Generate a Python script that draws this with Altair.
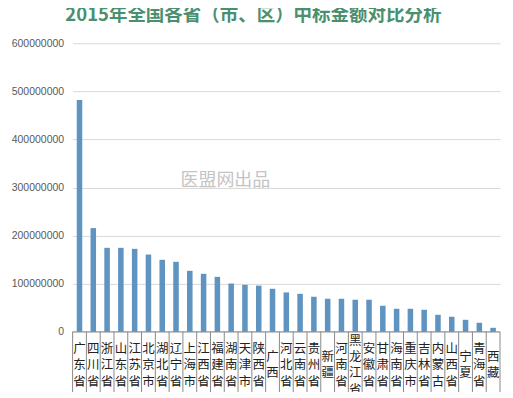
import altair as alt
import pandas as pd

provinces = ["广东省", "四川省", "浙江省", "山东省", "江苏省", "北京市", "湖北省", "辽宁省",
             "上海市", "江西省", "福建省", "湖南省", "天津市", "陕西省", "广西", "河北省",
             "云南省", "贵州省", "新疆", "河南省", "黑龙江省", "安徽省", "甘肃省", "海南省",
             "重庆市", "吉林省", "内蒙古", "山西省", "宁夏", "青海省", "西藏"]
amounts_million = [482, 215.6, 174.6, 174.6, 172.5, 160.7, 149.7, 145.5,
                   126.8, 120.6, 114.3, 100.4, 97.7, 96.0, 89.5, 81.9,
                   79.0, 72.9, 68.7, 68.7, 66.7, 66.7, 54.2, 47.9,
                   47.9, 45.8, 35.4, 31.3, 25.0, 18.8, 8.3]
y_ticks = [0, 100000000, 200000000, 300000000, 400000000, 500000000, 600000000]
title_text = "2015年全国各省（市、区）中标金额对比分析"
watermark = "医盟网出品"

LH = 16.5
df = pd.DataFrame({
    "省份": provinces,
    "金额": [v * 1e6 for v in amounts_million],
    "竖排": ["\n".join(list(p)) for p in provinces],
    "n": [len(p) for p in provinces],
})

xscale = alt.Scale(paddingInner=0, paddingOuter=0)

bars = alt.Chart(df).mark_bar(color="#5f93c0", width=alt.RelativeBandSize(0.4)).encode(
    x=alt.X("省份:N", sort=provinces, title=None, scale=xscale, axis=None),
    y=alt.Y("金额:Q", title=None,
            scale=alt.Scale(domain=[0, 600000000], nice=False),
            axis=alt.Axis(values=y_ticks, format="d", domain=False, ticks=False,
                          labelFontSize=10.5, labelColor="#595959", labelFont="Liberation Sans",
                          labelPadding=9, gridColor="#d9d9d9")),
)

sep = alt.Chart(df).mark_rule(color="#8a8a8a", strokeWidth=1).encode(
    x=alt.X("省份:N", sort=provinces, bandPosition=0),
    y=alt.value(289), y2=alt.value(360),
)
sep_end = alt.Chart(df).transform_filter(alt.datum["省份"] == provinces[-1]).mark_rule(
    color="#8a8a8a", strokeWidth=1).encode(
    x=alt.X("省份:N", sort=provinces, bandPosition=1),
    y=alt.value(289), y2=alt.value(360),
)
domain_line = alt.Chart(df).transform_filter(alt.datum["省份"] == provinces[0]).mark_rule(
    color="#8a8a8a", strokeWidth=1).encode(
    x=alt.value(0), x2=alt.value(428), y=alt.value(289),
)

label_layers = []
for k in (2, 3, 4):
    label_layers.append(
        alt.Chart(df).transform_filter(alt.datum.n == k).mark_text(
            fontSize=12.5, font="Noto Sans CJK SC", color="#222222",
            lineBreak="\n", lineHeight=LH, baseline="middle", align="center",
            dy=-(k - 1) * LH / 2,
        ).encode(x=alt.X("省份:N", sort=provinces), y=alt.value(322.5), text="竖排:N")
    )

wm = alt.Chart(pd.DataFrame({"t": [watermark]})).mark_text(
    fontSize=18, color="#c4c4c4", font="Noto Sans CJK SC", align="left", baseline="middle"
).encode(x=alt.value(108), y=alt.value(138), text="t:N")

chart = alt.layer(bars, sep, sep_end, domain_line, *label_layers, wm).properties(
    width=428, height=289,
    autosize=alt.AutoSizeParams(type="none"),
    padding={"left": 64.7, "top": 35, "right": 5, "bottom": 60},
    title=alt.Title(title_text, fontSize=18.5, font="Noto Sans CJK SC", fontWeight="bold",
                    color="#4a8f6e", anchor="middle", dx=-33, offset=14),
).configure_view(stroke=None)

chart.save("out.html", embed_options={"renderer": "svg", "actions": False})
